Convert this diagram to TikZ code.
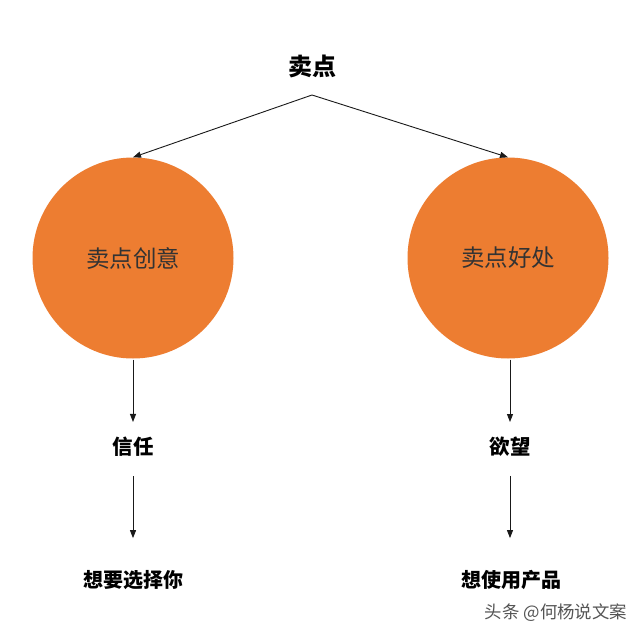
\documentclass[tikz,border=0pt]{standalone}
\usepackage{fontspec}
\newfontfamily\cjk{Noto Sans CJK SC}
\usetikzlibrary{arrows.meta}
\definecolor{orng}{HTML}{ED7D31}
\definecolor{dtxt}{HTML}{333333}
\definecolor{wm}{HTML}{555555}
\tikzset{
  conn/.style={draw=black!90, line width=0.9pt, -{Triangle[length=8pt,width=6pt]}},
  bubble/.style={circle, fill=orng, minimum size=201pt, inner sep=0pt, font=\cjk\fontsize{23.5}{28}\selectfont, text=dtxt},
  lbl/.style={font=\cjk\bfseries\fontsize{20.5}{24}\selectfont, text=black, inner sep=0pt}
}
\begin{document}
\begin{tikzpicture}[x=1pt,y=-1pt]
\useasboundingbox (0,0) rectangle (640,640);
\fill[white] (0,0) rectangle (640,640);
\node[lbl, font=\cjk\bfseries\fontsize{24}{28}\selectfont] (title) at (312,66) {卖点};
\coordinate (apex) at (312,95);
\node[bubble] (c1) at (133,258) {卖点创意};
\node[bubble] (c2) at (508,258) {卖点好处};
\node[lbl] (a1) at (133,447) {信任};
\node[lbl] (a2) at (510,447) {欲望};
\node[lbl, font=\cjk\bfseries\fontsize{20}{24}\selectfont] (b1) at (133,580) {想要选择你};
\node[lbl, font=\cjk\bfseries\fontsize{20}{24}\selectfont] (b2) at (511,580) {想使用产品};
\node[font=\cjk\fontsize{17.4}{20}\selectfont, text=wm, inner sep=0pt] (wmk) at (556,613) {头条 @何杨说文案};
\draw[conn] (apex) -- (c1.north);
\draw[conn] (apex) -- (c2.north);
\draw[conn, shorten <=1pt, shorten >=15pt] (c1.south) -- (a1.north -| c1.south);
\draw[conn, shorten <=1pt, shorten >=15pt] (c2.south -| a2.north) -- (a2.north);
\draw[conn, shorten <=19pt, shorten >=32pt] (a1.south) -- (b1.north -| a1.south);
\draw[conn, shorten <=19pt, shorten >=32pt] (a2.south) -- (b2.north -| a2.south);
\end{tikzpicture}
\end{document}
